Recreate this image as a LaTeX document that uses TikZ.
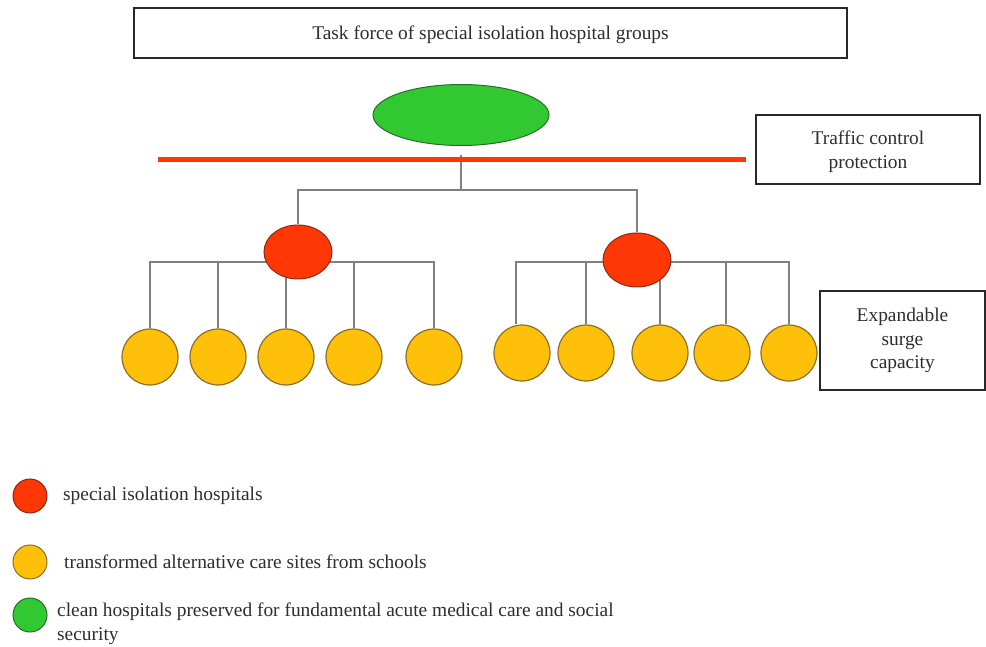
\documentclass[tikz,border=0pt]{standalone}
\usepackage{fontspec}
\setmainfont{Liberation Serif}
\usetikzlibrary{shapes.geometric,backgrounds}
\definecolor{cgreen}{RGB}{50,200,50}
\definecolor{cgreenb}{RGB}{40,110,40}
\definecolor{cred}{RGB}{255,55,5}
\definecolor{credb}{RGB}{140,40,20}
\definecolor{cyel}{RGB}{255,192,10}
\definecolor{cyelb}{RGB}{140,110,40}
\definecolor{cline}{RGB}{128,128,128}
\definecolor{cbox}{RGB}{40,40,40}
\definecolor{ctext}{RGB}{45,45,45}
\tikzset{
  txt/.style={font=\fontsize{19.4}{23.5}\selectfont, text=ctext},
  labbox/.style={draw=cbox, line width=2pt, txt, align=center, inner sep=0pt},
  greenell/.style={ellipse, draw=cgreenb, fill=cgreen, line width=1pt, minimum width=176pt, minimum height=61pt, inner sep=0pt},
  redell/.style={ellipse, draw=credb, fill=cred, line width=1pt, minimum width=68pt, minimum height=54pt, inner sep=0pt},
  yelcirc/.style={circle, draw=cyelb, fill=cyel, line width=1.2pt, minimum size=56pt, inner sep=0pt},
  legred/.style={circle, draw=credb, fill=cred, line width=1pt, minimum size=34pt, inner sep=0pt},
  legyel/.style={circle, draw=cyelb, fill=cyel, line width=1pt, minimum size=34pt, inner sep=0pt},
  leggreen/.style={circle, draw=cgreenb, fill=cgreen, line width=1pt, minimum size=34pt, inner sep=0pt},
  conn/.style={draw=cline, line width=1.5pt},
  redbar/.style={draw=cred, line width=5pt},
  legtxt/.style={txt, anchor=west, inner sep=0pt, align=left},
}
\begin{document}
\begin{tikzpicture}[x=1pt,y=-1pt]
\useasboundingbox (0,0) rectangle (986,647);
% boxes
\node[labbox, minimum width=713pt, minimum height=50pt, text height=13pt, text depth=0pt] (title) at (490.5,33) {Task force of special isolation hospital groups};
\node[labbox, minimum width=224pt, minimum height=69pt, text depth=0pt] (traffic) at (868,149.5) {Traffic control\\protection};
\node[labbox, minimum width=165pt, minimum height=99pt] (surge) at (902.5,340.5) {Expandable\\surge\\capacity};
% green
\node[greenell] (green) at (461,115) {};
% red bar
\coordinate (barL) at (158,160);
\coordinate (barR) at (746,160);
\coordinate (barM) at (461,155);
\coordinate (hub) at (461,190);
% red ellipses
\node[redell] (r1) at (298,252) {};
\node[redell] (r2) at (637,260) {};
% yellow
\node[yelcirc] (a1) at (150,357) {};
\node[yelcirc] (a2) at (218,357) {};
\node[yelcirc] (a3) at (286,357) {};
\node[yelcirc] (a4) at (354,357) {};
\node[yelcirc] (a5) at (434,357) {};
\node[yelcirc] (b1) at (522,353) {};
\node[yelcirc] (b2) at (586,353) {};
\node[yelcirc] (b3) at (660,353) {};
\node[yelcirc] (b4) at (722,353) {};
\node[yelcirc] (b5) at (789,353) {};
\coordinate (barA) at (0,262);
\coordinate (barB) at (0,262);
\begin{scope}[on background layer]
\draw[conn] (barM) -- (hub);
\draw[conn] (hub) -| (r1.north);
\draw[conn] (hub) -| (r2.north);
\draw[conn] (a1.north) |- (a5.north |- barA) -- (a5.north);
\draw[conn] (a2.north) -- (a2.north |- barA);
\draw[conn] (a3.north) -- (a3.north |- barA);
\draw[conn] (a4.north) -- (a4.north |- barA);
\draw[conn] ([xshift=-6pt]b1.north) |- (b5.north |- barB) -- (b5.north);
\draw[conn] (b2.north) -- (b2.north |- barB);
\draw[conn] (b3.north) -- (b3.north |- barB);
\draw[conn] ([xshift=4pt]b4.north) -- ([xshift=4pt]b4.north |- barB);
\end{scope}
\draw[redbar] (barL) -- (barR);
% legend
\node[legred] (lr) at (30,496) {};
\node[legtxt] (lrt) at (63,496) {special isolation hospitals};
\node[legyel] (ly) at (30,562) {};
\node[legtxt] (lyt) at (64,562) {transformed alternative care sites from schools};
\node[leggreen] (lg) at (30,615) {};
\node[legtxt, anchor=north west] (lgt) at (57,603) {clean hospitals preserved for fundamental acute medical care and social\\security};
\end{tikzpicture}
\end{document}
